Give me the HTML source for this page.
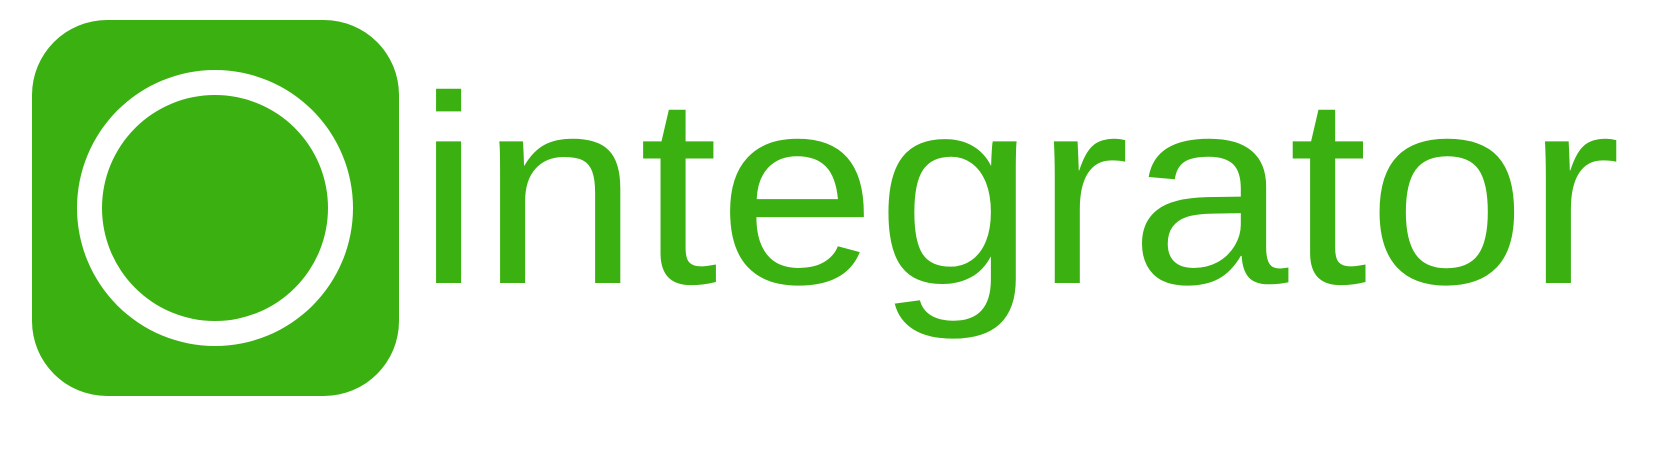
<!DOCTYPE html>
<html>
<head>
<meta charset="utf-8">
<style>
  html,body{margin:0;padding:0;background:#fff;width:1667px;height:475px;overflow:hidden;}
  svg{display:block;}
</style>
</head>
<body>
<svg width="1667" height="475" viewBox="0 0 1667 475">
  <g>
    <rect x="32" y="20" width="367" height="376" rx="75" ry="75" fill="#3bb011"/>
    <circle cx="215" cy="208" r="138" fill="#ffffff"/>
    <circle cx="215" cy="208" r="113" fill="#3bb011"/>
  </g>
  <text x="417" y="283" font-family="'Liberation Sans', sans-serif" font-size="268" fill="#3bb011" textLength="1204" lengthAdjust="spacingAndGlyphs">integrator</text>
</svg>
</body>
</html>
